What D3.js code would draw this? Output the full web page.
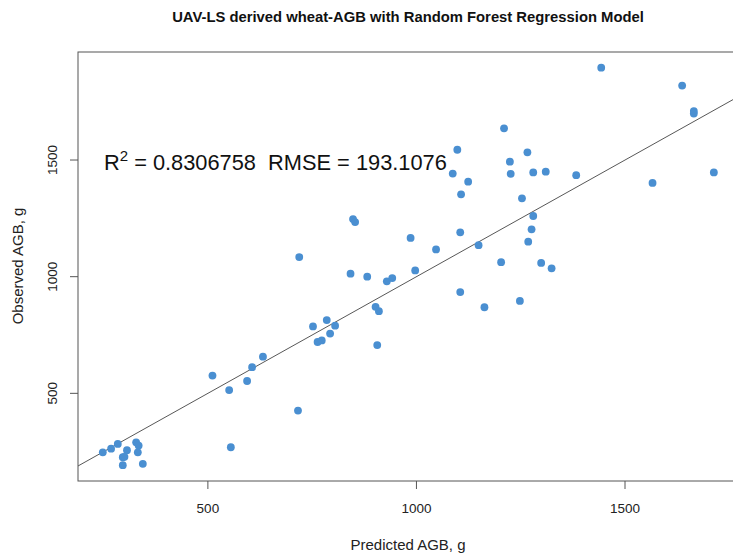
<!DOCTYPE html>
<html>
<head>
<meta charset="UTF-8">
<title>UAV-LS AGB</title>
<script src="https://d3js.org/d3.v7.min.js"></script>
<style>
html, body { margin: 0; padding: 0; background: #fff; }
svg { display: block; font-family: "Liberation Sans", Arial, sans-serif; }
</style>
</head>
<body>
<div id="chart"></div>
<script>
// predicted vs observed AGB (g)
var predicted = [248, 268, 284, 306, 296, 300, 296, 328, 334, 332, 344,
  511, 551, 555, 594, 606, 632, 716, 763, 773, 793, 752, 785, 805,
  902, 910, 906, 719, 842, 882, 929, 942, 848, 853, 986, 997, 1047,
  1105, 1105, 1149, 1163, 1203, 1248, 1268, 1276, 1280, 1299, 1324,
  1253, 1107, 1124, 1087, 1098, 1224, 1226, 1266, 1210, 1280, 1310,
  1383, 1443, 1637, 1665, 1665, 1713, 1566];
var observed = [247, 263, 283, 256, 226, 228, 192, 290, 276, 247, 198,
  576, 514, 269, 553, 612, 657, 426, 720, 727, 756, 787, 814, 790,
  871, 852, 707, 1084, 1013, 1000, 980, 994, 1247, 1234, 1166, 1027, 1117,
  1190, 934, 1135, 869, 1062, 896, 1150, 1203, 1260, 1059, 1036,
  1336, 1353, 1407, 1442, 1544, 1493, 1441, 1533, 1636, 1447, 1450,
  1435, 1896, 1819, 1710, 1699, 1447, 1402];
var xTicks = [500, 1000, 1500];
var yTicks = [500, 1000, 1500];
var r2 = "0.8306758";
var rmse = "193.1076";

var W = 733, H = 556;
var mLeft = 78, mRight = 739, mTop = 52, mBottom = 481;

var svg = d3.select("#chart").append("svg")
  .attr("width", W).attr("height", H);

var x = d3.scaleLinear().domain([188.6, 1773.3]).range([mLeft, mRight]);
var y = d3.scaleLinear().domain([124.3, 1963]).range([mBottom, mTop]);

svg.append("clipPath").attr("id", "plotclip")
  .append("rect").attr("x", mLeft).attr("y", mTop)
  .attr("width", mRight - mLeft).attr("height", mBottom - mTop);

// 1:1 line
svg.append("line")
  .attr("clip-path", "url(#plotclip)")
  .attr("x1", x(0)).attr("y1", y(0))
  .attr("x2", x(2000)).attr("y2", y(2000))
  .attr("stroke", "#444").attr("stroke-width", 0.9);

svg.append("g").selectAll("circle")
  .data(predicted)
  .enter().append("circle")
  .attr("cx", function(d){ return x(d); })
  .attr("cy", function(d, i){ return y(observed[i]); })
  .attr("r", 3.9)
  .attr("fill", "#4a8fd1");

// box
svg.append("rect")
  .attr("x", mLeft).attr("y", mTop)
  .attr("width", mRight - mLeft).attr("height", mBottom - mTop)
  .attr("fill", "none").attr("stroke", "#555").attr("stroke-width", 1);

// x axis
var xAxis = svg.append("g");
xAxis.selectAll("line").data(xTicks).enter().append("line")
  .attr("x1", function(d){ return x(d); }).attr("x2", function(d){ return x(d); })
  .attr("y1", mBottom).attr("y2", mBottom + 8)
  .attr("stroke", "#555");
xAxis.selectAll("text").data(xTicks).enter().append("text")
  .attr("x", function(d){ return x(d); }).attr("y", 513)
  .attr("text-anchor", "middle").attr("font-size", 13.5).attr("fill", "#222")
  .text(function(d){ return d; });

// y axis
var yAxis = svg.append("g");
yAxis.selectAll("line").data(yTicks).enter().append("line")
  .attr("y1", function(d){ return y(d); }).attr("y2", function(d){ return y(d); })
  .attr("x1", mLeft).attr("x2", mLeft - 8)
  .attr("stroke", "#555");
yAxis.selectAll("text").data(yTicks).enter().append("text")
  .attr("transform", function(d){ return "translate(57," + y(d) + ") rotate(-90)"; })
  .attr("text-anchor", "middle").attr("font-size", 13.5).attr("fill", "#222")
  .text(function(d){ return d; });

// labels
svg.append("text").attr("x", 408).attr("y", 22)
  .attr("text-anchor", "middle").attr("font-size", 14.8).attr("font-weight", "bold")
  .attr("fill", "#111")
  .text("UAV-LS derived wheat-AGB with Random Forest Regression Model");
svg.append("text").attr("x", 408).attr("y", 550)
  .attr("text-anchor", "middle").attr("font-size", 15).attr("fill", "#222")
  .text("Predicted AGB, g");
svg.append("text").attr("transform", "translate(23,266) rotate(-90)")
  .attr("text-anchor", "middle").attr("font-size", 15).attr("fill", "#222")
  .text("Observed AGB, g");

// R2 / RMSE annotation
var ann = svg.append("text").attr("x", 104).attr("y", 170)
  .attr("font-size", 21.8).attr("fill", "#111").style("white-space", "pre");
ann.append("tspan").text("R");
ann.append("tspan").attr("dy", -9.5).attr("font-size", 15).text("2");
ann.append("tspan").attr("dy", 9.5).text(" = " + r2 + "  RMSE = " + rmse);
</script>
</body>
</html>
